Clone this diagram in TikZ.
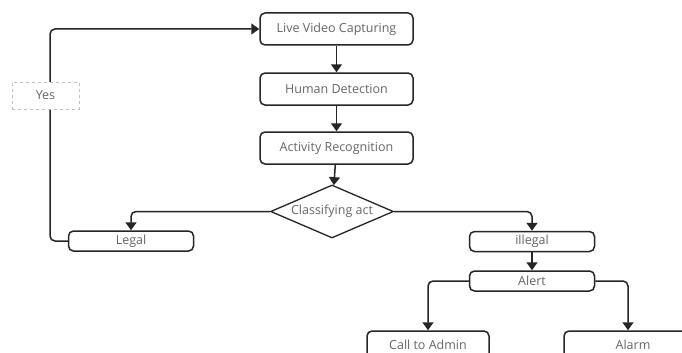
\documentclass[tikz,border=0pt]{standalone}
\usepackage{fontspec}
\setmainfont{Open Sans}
\usetikzlibrary{shapes.geometric, arrows.meta}

\begin{document}
\begin{tikzpicture}[x=1pt, y=-1pt, font=\fontsize{12.5}{14}\selectfont,
    stepbox/.style={draw=black!85, line width=1.5pt, rounded corners=5pt, text=black!60, minimum width=153pt, minimum height=32pt, inner sep=0pt},
    smallbox/.style={stepbox, minimum width=125pt, minimum height=20pt},
    decision/.style={draw=black!85, line width=1.3pt, diamond, aspect=2.3, text=black!60, minimum width=123pt, minimum height=53pt, inner sep=0pt},
    flow/.style={draw=black!85, line width=1.5pt, rounded corners=5pt, -{Triangle[length=8pt, width=11pt]}}]
  \useasboundingbox[fill=white] (0,0) rectangle (682,353);
  \node[stepbox] (live) at (336.5,29) {Live Video Capturing};
  \node[stepbox] (human) at (336.5,89) {Human Detection};
  \node[stepbox] (activity) at (336.5,148) {Activity Recognition};
  \node[decision] (classify) at (332,211.5) {Classifying act};
  \node[smallbox] (legal) at (131,241) {Legal};
  \node[smallbox] (illegal) at (532,241.5) {illegal};
  \node[smallbox] (alert) at (532,281) {Alert};
  \node[stepbox, minimum width=122pt, minimum height=28pt] (admin) at (428,345) {Call to Admin};
  \node[stepbox, minimum width=128pt, minimum height=28pt] (alarm) at (628,345) {\hspace*{10pt}Alarm};
  \coordinate (back) at (50,135);
  \draw[flow] (live) -- (human);
  \draw[flow] (human) -- (activity);
  \draw[flow] (activity) -- (classify);
  \draw[flow] (classify.west) -| (legal.north);
  \draw[flow] (classify.east) -| (illegal.north);
  \draw[flow] (illegal) -- (alert);
  \draw[flow] (alert.west) -| (admin.north);
  \draw[flow] (alert.east) -| (alarm.north);
  \draw[flow] (legal.west) -| (back) |- (live.west);
  \node[draw=black!25, dashed, fill=white, text=black!60, minimum width=67pt, minimum height=27pt, inner sep=0pt] (yes) at (45.5,95.5) {Yes};
\end{tikzpicture}
\end{document}
